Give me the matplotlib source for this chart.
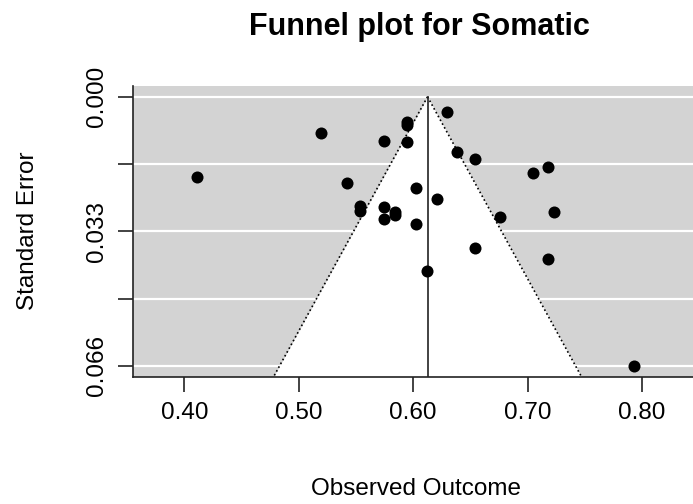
import numpy as np
from matplotlib import pyplot as plt

# observed outcomes and standard errors
yi = [0.4114, 0.5194, 0.5417, 0.5534, 0.5534, 0.5744, 0.5744, 0.5744, 0.5844,
      0.5844, 0.5942, 0.5942, 0.5942, 0.6027, 0.6027, 0.6124, 0.6212, 0.6294,
      0.6382, 0.6536, 0.6536, 0.6762, 0.7048, 0.7174, 0.7174, 0.7233, 0.7928]
sei = [0.0197, 0.0089, 0.0212, 0.0269, 0.0280, 0.0108, 0.0270, 0.0299, 0.0283,
       0.0291, 0.0061, 0.0070, 0.0112, 0.0224, 0.0312, 0.0427, 0.0251, 0.0037,
       0.0136, 0.0152, 0.0371, 0.0295, 0.0188, 0.0172, 0.0399, 0.0283, 0.0660]
estimate = 0.6125

xticks = [0.40, 0.50, 0.60, 0.70, 0.80]
xticklabels = ["0.40", "0.50", "0.60", "0.70", "0.80"]
yticks = [0.0, 0.0165, 0.033, 0.0495, 0.066]
yticklabels = ["0.000", "", "0.033", "", "0.066"]

plt.rcParams['font.family'] = ['Liberation Sans', 'DejaVu Sans']

W, H = 693, 504
fig = plt.figure(figsize=(W / 100, H / 100), dpi=100)
ax = fig.add_axes([132.7 / W, (H - 376.7) / H, 566.0 / W, (376.7 - 86.0) / H])

xlim = (0.3548, 0.8495)
ylim = (0.06864, -0.00264)
ax.set_xlim(xlim)
ax.set_ylim(ylim)
ax.set_facecolor('#D3D3D3')

# white horizontal lines at the y ticks
for t in yticks:
    ax.axhline(t, color='white', lw=1.6, zorder=0.5)

# funnel (pseudo confidence region)
se_edge = np.array([0.0, 0.075])
ax.fill_betweenx(se_edge, estimate - 1.96 * se_edge, estimate + 1.96 * se_edge,
                 color='white', lw=0, zorder=1)
ax.plot(estimate - 1.96 * se_edge, se_edge, color='black', lw=1.2,
        ls=(0, (1, 1.6)), zorder=2)
ax.plot(estimate + 1.96 * se_edge, se_edge, color='black', lw=1.2,
        ls=(0, (1, 1.6)), zorder=2)
ax.plot([estimate, estimate], [0.0, 0.075], color='#222222', lw=1.2, zorder=2)

ax.scatter(yi, sei, s=75, color='black', lw=0, zorder=3, clip_on=False)

ax.spines['top'].set_visible(False)
ax.spines['right'].set_visible(False)
for sp in ['left', 'bottom']:
    ax.spines[sp].set_color('#222222')
    ax.spines[sp].set_linewidth(1.2)

ax.set_xticks(xticks)
ax.set_xticklabels(xticklabels)
ax.set_yticks(yticks)
ax.set_yticklabels(yticklabels)
ax.tick_params(axis='both', length=11, width=1.2, color='#222222',
               labelsize=17.5, labelcolor='black')
ax.tick_params(axis='x', pad=7)
ax.tick_params(axis='y', pad=7, labelrotation=90)
for lab in ax.get_yticklabels():
    lab.set_va('center')

fig.text(419.5 / W, 1 - 27 / H, "Funnel plot for Somatic", ha='center',
         va='center', fontsize=22, fontweight='bold')
fig.text(415.7 / W, 1 - 495 / H, "Observed Outcome", ha='center',
         va='baseline', fontsize=17.5)
fig.text(28 / W, 1 - 231 / H, "Standard Error", ha='center', va='center',
         rotation=90, fontsize=17.5)

fig.savefig("out.png", dpi=100)
